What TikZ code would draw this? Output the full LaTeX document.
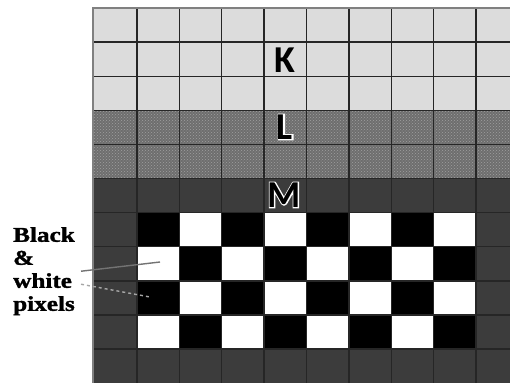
\documentclass[tikz,border=0pt]{standalone}
\usepackage{fontspec}
\usepackage{tikz}
\usepackage{xcolor}
\usetikzlibrary{patterns, positioning}
\newfontfamily\cellfont{Carlito}
\newfontfamily\haloFont{Carlito}[FakeBold=6]
\newfontfamily\notefont{Liberation Serif}[FakeStretch=1.2, FakeBold=1.5]
\definecolor{K_Light}{HTML}{DCDCDC}
\definecolor{L_Mid}{HTML}{6E6E6E}
\definecolor{L_Dots}{HTML}{A0A0A0}
\definecolor{M_Dark}{HTML}{3C3C3C}
\definecolor{Grid_Line}{HTML}{262626}

\begin{document}
\begin{tikzpicture}[x=1pt, y=-1pt,
    gridline/.style={line width=1.4pt, draw=Grid_Line},
    bandlabel/.style={font=\cellfont\bfseries\fontsize{38}{38}\selectfont, inner sep=0pt},
    bandhalo/.style={font=\haloFont\bfseries\fontsize{38}{38}\selectfont, inner sep=0pt, text=white},
    pointer/.style={line width=1.4pt}]
    \useasboundingbox (0,0) rectangle (510,383);

    % Bands K, L, M
    \fill[K_Light] (93,8) rectangle (510,110.3);
    \fill[L_Mid] (93,110.3) rectangle (510,178.5);
    \fill[pattern=crosshatch dots, pattern color=L_Dots] (93,110.3) rectangle (510,178.5);
    \fill[M_Dark] (93,178.5) rectangle (510,383);

    % Black and white cells
    \foreach \r in {0,...,3}
      \foreach \c in {1,...,8}{
        \ifodd\numexpr\r+\c\relax \def\cellcol{black}\else \def\cellcol{white}\fi
        \fill[\cellcol] (94.5+42.4*\c, 212.6+34.1*\r) rectangle ++(42.4,34.1);
      }

    % Grid
    \foreach \c in {1,...,9} \draw[gridline] (94.5+42.4*\c, 8) -- (94.5+42.4*\c, 383);
    \foreach \r in {1,...,10} \draw[gridline] (93, 8+34.1*\r) -- (510, 8+34.1*\r);
    \draw[gridline, draw=gray] (510,8) -- (93,8) -- (93,383);

    % Band letters
    \node[bandlabel] (Kmark) at (285,60) {K};
    \node[bandhalo] (Lhalo) at (285,127) {L};
    \node[bandlabel] (Lmark) at (285,127) {L};
    \node[bandhalo] (Mhalo) at (284,195) {M};
    \node[bandlabel] (Mmark) at (284,195) {M};

    % Note on the left
    \node[anchor=north west, inner sep=0pt, align=left,
          font=\notefont\bfseries\fontsize{21}{23}\selectfont] (bwnote) at (13,227)
          {Black\\\&\\white\\pixels};
    \coordinate (wcell) at (160,262);
    \coordinate (bcell) at (150,297);
    \draw[pointer, draw=gray!90!black] ([xshift=6pt]bwnote.east) -- (wcell);
    \draw[pointer, dashed, draw=gray!70] ([xshift=6pt, yshift=-13pt]bwnote.east) -- (bcell);
\end{tikzpicture}
\end{document}
